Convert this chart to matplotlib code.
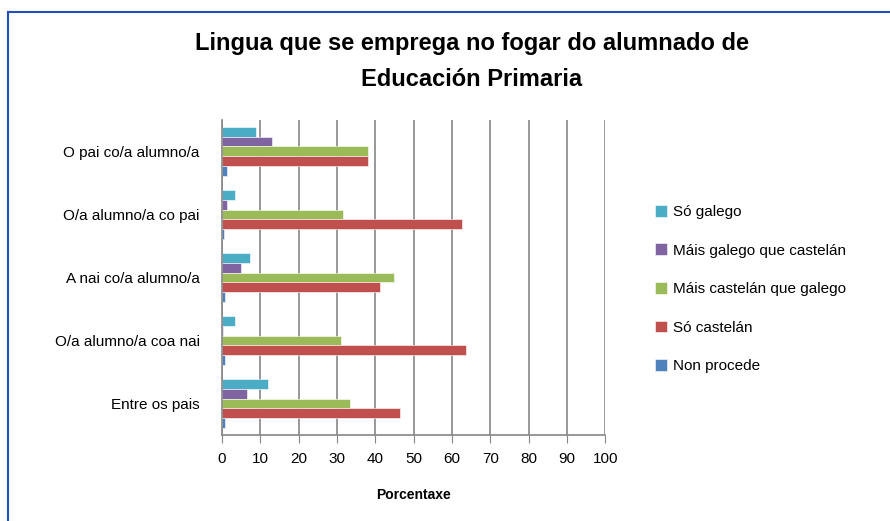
import matplotlib
matplotlib.use("Agg")
import matplotlib.pyplot as plt
from matplotlib.lines import Line2D
import numpy as np

# Data (percent)
categories = ["O pai co/a alumno/a", "O/a alumno/a co pai", "A nai co/a alumno/a",
              "O/a alumno/a coa nai", "Entre os pais"]
so_galego = [9.0, 3.3, 7.4, 3.3, 11.9]
mais_galego = [13.0, 1.3, 5.0, 0.4, 6.5]
mais_castelan = [38.2, 31.7, 44.8, 31.0, 33.3]
so_castelan = [38.2, 62.6, 41.2, 63.8, 46.4]
non_procede = [1.3, 0.5, 0.9, 0.9, 0.9]

series_names = ["Só galego", "Máis galego que castelán", "Máis castelán que galego",
                "Só castelán", "Non procede"]
series_values = [so_galego, mais_galego, mais_castelan, so_castelan, non_procede]
colors = ["#4BACC6", "#8064A2", "#9BBB59", "#C0504D", "#4F81BD"]

plt.rcParams["font.family"] = ["Liberation Sans", "DejaVu Sans"]

fig = plt.figure(figsize=(8.9, 5.21), dpi=100)
ax = fig.add_axes([0.2494, 0.165, 0.4306, 0.605])

n_groups = len(categories)
y_pos = np.arange(n_groups)[::-1]  # first category on top
bar_h = 0.155
for i, (name, vals, col) in enumerate(zip(series_names, series_values, colors)):
    offset = (2 - i) * bar_h
    ax.barh(y_pos + offset, vals, height=bar_h, color=col, label=name,
            edgecolor="white", linewidth=0.4)

ax.set_xlim(0, 100)
ax.set_ylim(-0.5, n_groups - 0.5)
ax.set_xticks(range(0, 101, 10))
ax.set_yticks(y_pos)
ax.set_yticklabels(categories, fontsize=11)
ax.tick_params(axis="x", labelsize=11, length=6, color="#868686", pad=6)
ax.tick_params(axis="y", length=0, pad=16)
ax.xaxis.grid(True, color="#868686", linewidth=1.2)
ax.set_axisbelow(True)
for side in ["top", "right"]:
    ax.spines[side].set_visible(False)
for side in ["left", "bottom"]:
    ax.spines[side].set_color("#868686")
    ax.spines[side].set_linewidth(1.2)

ax.set_xlabel("Porcentaxe", fontsize=10, fontweight="bold", labelpad=16)

fig.text(0.53, 0.882, "Lingua que se emprega no fogar do alumnado de\nEducación Primaria",
         ha="center", va="center", fontsize=17, fontweight="bold", linespacing=1.75)

handles, labels = ax.get_legend_handles_labels()
fig.legend(handles, labels, loc="center left", bbox_to_anchor=(0.72, 0.445),
           frameon=False, fontsize=11, handlelength=0.8, handleheight=0.8,
           labelspacing=1.6, handletextpad=0.4)

# blue chart border (left and top visible)
fig.add_artist(Line2D([8 / 890, 8 / 890], [0, 1 - 12 / 521], transform=fig.transFigure,
                      color="#1F4FBF", linewidth=1.5))
fig.add_artist(Line2D([8 / 890, 1], [1 - 12 / 521, 1 - 12 / 521], transform=fig.transFigure,
                      color="#1F4FBF", linewidth=1.5))

plt.savefig("out.png", dpi=100)
plt.close()
